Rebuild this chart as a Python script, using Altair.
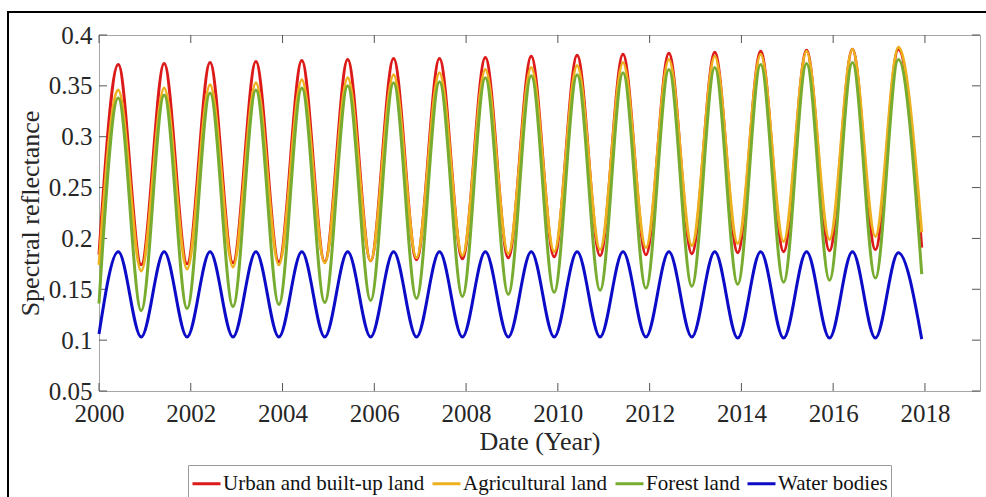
import altair as alt
import pandas as pd

# Dates (decimal years) of the seasonal maxima and minima, plus the series ends
T_START = 2000.0
PEAK_T = [2000.42, 2001.42, 2002.42, 2003.42, 2004.42, 2005.42, 2006.42, 2007.42, 2008.42,
          2009.42, 2010.42, 2011.42, 2012.42, 2013.42, 2014.42, 2015.42, 2016.42, 2017.42]
TROUGH_T = [2000.92, 2001.92, 2002.92, 2003.92, 2004.92, 2005.92, 2006.92, 2007.92, 2008.92,
            2009.92, 2010.92, 2011.92, 2012.92, 2013.92, 2014.92, 2015.92, 2016.92]
T_END = 2017.93

SERIES = ["Urban and built-up land", "Agricultural land", "Forest land", "Water bodies"]
COLORS = ["#dc1a1a", "#edb120", "#77ac30", "#0c0cc8"]

# Spectral reflectance per land cover class
URBAN_START = 0.184
URBAN_PEAKS = [0.371, 0.372, 0.373, 0.374, 0.375, 0.376, 0.377, 0.377, 0.378,
               0.379, 0.380, 0.381, 0.382, 0.383, 0.384, 0.385, 0.386, 0.386]
URBAN_TROUGHS = [0.174, 0.175, 0.176, 0.177, 0.177, 0.178, 0.179, 0.180, 0.181,
                 0.182, 0.183, 0.184, 0.185, 0.186, 0.187, 0.188, 0.189]
URBAN_END = 0.191

AGRI_START = 0.174
AGRI_PEAKS = [0.346, 0.348, 0.351, 0.353, 0.356, 0.358, 0.361, 0.363, 0.366,
              0.368, 0.370, 0.373, 0.376, 0.379, 0.381, 0.384, 0.386, 0.388]
AGRI_TROUGHS = [0.168, 0.170, 0.172, 0.174, 0.176, 0.178, 0.181, 0.183, 0.185,
                0.187, 0.189, 0.191, 0.193, 0.195, 0.197, 0.199, 0.202]
AGRI_END = 0.206

FOREST_START = 0.136
FOREST_PEAKS = [0.338, 0.341, 0.343, 0.346, 0.348, 0.350, 0.353, 0.354, 0.358,
                0.360, 0.361, 0.363, 0.366, 0.368, 0.371, 0.372, 0.373, 0.376]
FOREST_TROUGHS = [0.129, 0.131, 0.133, 0.135, 0.137, 0.139, 0.141, 0.143, 0.145,
                  0.147, 0.149, 0.151, 0.153, 0.155, 0.157, 0.159, 0.161]
FOREST_END = 0.165

WATER_START = 0.106
WATER_PEAKS = [0.187, 0.187, 0.187, 0.187, 0.187, 0.187, 0.187, 0.187, 0.187,
               0.187, 0.187, 0.187, 0.187, 0.187, 0.187, 0.187, 0.187, 0.186]
WATER_TROUGHS = [0.103, 0.103, 0.103, 0.103, 0.103, 0.103, 0.103, 0.103, 0.103,
                 0.103, 0.103, 0.103, 0.103, 0.102, 0.102, 0.102, 0.102]
WATER_END = 0.101

X_TICKS = [2000, 2002, 2004, 2006, 2008, 2010, 2012, 2014, 2016, 2018]
Y_TICKS = [0.05, 0.1, 0.15, 0.2, 0.25, 0.3, 0.35, 0.4]

W, H = 881, 356
FONT = "Liberation Serif"
TEXT = "#262626"
BOX = "#a6a6a6"


def series_frame(name, start, peaks, troughs, end):
    rows = [(T_START, start)]
    rows += list(zip(PEAK_T, peaks))
    rows += list(zip(TROUGH_T, troughs))
    rows.append((T_END, end))
    rows.sort()
    return pd.DataFrame({"t": [r[0] for r in rows], "v": [r[1] for r in rows], "series": name})


frames = [
    series_frame(SERIES[0], URBAN_START, URBAN_PEAKS, URBAN_TROUGHS, URBAN_END),
    series_frame(SERIES[1], AGRI_START, AGRI_PEAKS, AGRI_TROUGHS, AGRI_END),
    series_frame(SERIES[2], FOREST_START, FOREST_PEAKS, FOREST_TROUGHS, FOREST_END),
    series_frame(SERIES[3], WATER_START, WATER_PEAKS, WATER_TROUGHS, WATER_END),
]

x_scale = alt.Scale(domain=[2000, 2019.2], nice=False, zero=False)
y_scale = alt.Scale(domain=[0.05, 0.4], nice=False, zero=False)

axis_text = dict(labelFont=FONT, labelFontSize=25, labelColor=TEXT,
                 titleFont=FONT, titleFontSize=26, titleColor=TEXT,
                 titleFontWeight="normal", grid=False, ticks=False, domain=False,
                 labelFlush=False, labelOverlap=False)


def x_enc():
    return alt.X("t:Q", scale=x_scale,
                 axis=alt.Axis(values=X_TICKS, format="d", title="Date (Year)",
                               labelPadding=10, titlePadding=2, **axis_text))


def y_enc():
    return alt.Y("v:Q", scale=y_scale,
                 axis=alt.Axis(values=Y_TICKS, format="~g", title="Spectral reflectance",
                               labelPadding=7, titlePadding=5, **axis_text))


color = alt.Color(
    "series:N",
    scale=alt.Scale(domain=SERIES, range=COLORS),
    legend=alt.Legend(
        title=None, orient="none", direction="horizontal",
        legendX=89, legendY=430,
        symbolType="stroke", symbolSize=784, symbolStrokeWidth=3,
        labelFont=FONT, labelFontSize=21, labelColor="#111111", labelLimit=0,
        labelOffset=1, columnPadding=1, padding=3,
        strokeColor="#9a9a9a", fillColor="white",
    ),
)

lines = [
    alt.Chart(df).mark_line(interpolate="monotone", strokeWidth=3).encode(
        x=x_enc(), y=y_enc(), color=color
    )
    for df in frames
]

xt = pd.DataFrame({"t": X_TICKS})
yt = pd.DataFrame({"v": Y_TICKS})
tick_style = dict(color="#555555", strokeWidth=1)

ticks_bottom = alt.Chart(xt).mark_rule(**tick_style).encode(
    x=x_enc(), y=alt.value(H), y2=alt.value(H - 8))
ticks_top = alt.Chart(xt).mark_rule(**tick_style).encode(
    x=x_enc(), y=alt.value(0), y2=alt.value(8))
ticks_left = alt.Chart(yt).mark_rule(**tick_style).encode(
    y=y_enc(), x=alt.value(0), x2=alt.value(8))
ticks_right = alt.Chart(yt).mark_rule(**tick_style).encode(
    y=y_enc(), x=alt.value(W), x2=alt.value(W - 8))

# Figure frame around the whole graphic
frame = alt.Chart(pd.DataFrame({"k": [0]})).mark_rect(
    fill=None, stroke="black", strokeWidth=2
).encode(x=alt.value(-91), x2=alt.value(W + 20), y=alt.value(-23), y2=alt.value(H + 120))

chart = alt.layer(
    frame, ticks_bottom, ticks_top, ticks_left, ticks_right, *lines
).properties(
    width=W, height=H,
    autosize=alt.AutoSizeParams(type="none"),
    padding={"left": 99, "top": 35, "right": 6, "bottom": 106},
    background="white",
).configure_view(
    stroke=BOX, strokeWidth=1
)

chart.save("out.html", embed_options={"renderer": "svg", "actions": False})
